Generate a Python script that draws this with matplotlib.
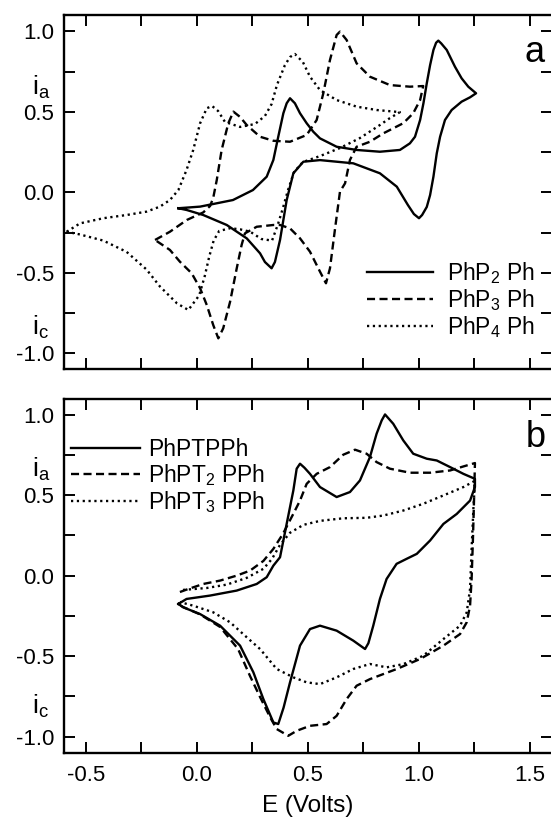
import matplotlib
matplotlib.use("Agg")
import matplotlib.pyplot as plt
from matplotlib.ticker import MultipleLocator, FormatStrFormatter

plt.rcParams['font.family'] = ['Liberation Sans', 'DejaVu Sans']
plt.rcParams['mathtext.fontset'] = 'custom'
plt.rcParams['mathtext.rm'] = 'Liberation Sans'
plt.rcParams['mathtext.it'] = 'Liberation Sans:italic'
plt.rcParams['axes.unicode_minus'] = False
plt.rcParams['lines.scale_dashes'] = False

# ---------------- panel a : PhPnPh oligomers ----------------
p2_E = [-0.084, 0.014, 0.162, 0.252, 0.314, 0.344, 0.366, 0.389, 0.404, 0.419, 0.441,
        0.464, 0.494, 0.524, 0.554, 0.629, 0.719, 0.824, 0.914, 0.959, 0.982, 1.005,
        1.020, 1.035, 1.050, 1.065, 1.077, 1.087, 1.100, 1.125, 1.162, 1.192, 1.222,
        1.257, 1.230, 1.192, 1.147, 1.117, 1.095, 1.080, 1.065, 1.050, 1.035, 1.014,
        1.000, 0.977, 0.950, 0.900, 0.824, 0.704, 0.554, 0.479, 0.434, 0.404, 0.374,
        0.351, 0.336, 0.306, 0.284, 0.224, 0.134, 0.028, -0.046, -0.084]
p2_i = [-0.099, -0.089, -0.048, 0.014, 0.097, 0.201, 0.345, 0.491, 0.553, 0.584, 0.553,
        0.491, 0.429, 0.376, 0.335, 0.283, 0.263, 0.252, 0.263, 0.304, 0.345, 0.449,
        0.553, 0.677, 0.790, 0.884, 0.929, 0.942, 0.925, 0.884, 0.780, 0.708, 0.656,
        0.615, 0.590, 0.563, 0.511, 0.449, 0.345, 0.242, 0.097, -0.017, -0.091, -0.141,
        -0.161, -0.135, -0.079, 0.035, 0.118, 0.180, 0.200, 0.190, 0.118, -0.048, -0.296,
        -0.433, -0.472, -0.433, -0.379, -0.286, -0.203, -0.141, -0.110, -0.099]

p3_E = [-0.189, -0.122, -0.046, 0.028, 0.059, 0.073, 0.089, 0.111, 0.141, 0.164, 0.194,
        0.224, 0.284, 0.344, 0.419, 0.494, 0.539, 0.569, 0.599, 0.629, 0.644, 0.674,
        0.719, 0.779, 0.869, 0.959, 1.019, 1.005, 0.974, 0.929, 0.839, 0.779, 0.719,
        0.689, 0.667, 0.644, 0.622, 0.599, 0.581, 0.554, 0.509, 0.464, 0.419, 0.374,
        0.344, 0.269, 0.216, 0.201, 0.179, 0.149, 0.118, 0.096, 0.073, 0.044, 0.014,
        -0.024, -0.077, -0.122, -0.189]
p3_i = [-0.296, -0.245, -0.172, -0.125, -0.085, -0.035, 0.076, 0.263, 0.429, 0.501, 0.468,
        0.418, 0.345, 0.320, 0.314, 0.356, 0.449, 0.615, 0.822, 0.977, 0.998, 0.946,
        0.801, 0.718, 0.666, 0.656, 0.660, 0.573, 0.491, 0.429, 0.366, 0.314, 0.283,
        0.201, 0.056, 0.004, -0.224, -0.472, -0.565, -0.493, -0.369, -0.286, -0.224, -0.203,
        -0.203, -0.214, -0.255, -0.327, -0.472, -0.680, -0.845, -0.907, -0.824, -0.700, -0.596,
        -0.503, -0.431, -0.358, -0.296]

p4_E = [-0.587, -0.527, -0.422, -0.317, -0.227, -0.167, -0.122, -0.084, -0.047, -0.017, 0.014,
        0.044, 0.068, 0.095, 0.126, 0.194, 0.261, 0.306, 0.336, 0.360, 0.396, 0.419,
        0.441, 0.477, 0.509, 0.554, 0.629, 0.719, 0.810, 0.914, 0.869, 0.824, 0.734,
        0.644, 0.554, 0.477, 0.437, 0.410, 0.387, 0.365, 0.338, 0.290, 0.240, 0.194,
        0.150, 0.100, 0.075, 0.055, 0.035, 0.010, -0.039, -0.090, -0.167, -0.227, -0.317,
        -0.422, -0.527, -0.587]
p4_i = [-0.245, -0.193, -0.161, -0.141, -0.120, -0.089, -0.048, 0.014, 0.139, 0.263, 0.429,
        0.522, 0.536, 0.505, 0.437, 0.406, 0.424, 0.474, 0.548, 0.666, 0.790, 0.840,
        0.859, 0.809, 0.718, 0.635, 0.573, 0.532, 0.511, 0.498, 0.461, 0.418, 0.337,
        0.275, 0.225, 0.188, 0.126, 0.014, -0.098, -0.197, -0.300, -0.290, -0.245, -0.230,
        -0.223, -0.240, -0.300, -0.400, -0.520, -0.640, -0.731, -0.690, -0.585, -0.480, -0.370,
        -0.300, -0.262, -0.245]

# ---------------- panel b : PhPTnPPh oligomers ----------------
t1_E = [-0.084, -0.047, 0.059, 0.179, 0.269, 0.314, 0.344, 0.374, 0.404, 0.434, 0.449,
        0.464, 0.484, 0.509, 0.554, 0.629, 0.689, 0.734, 0.779, 0.809, 0.832, 0.847,
        0.884, 0.929, 0.974, 1.035, 1.080, 1.140, 1.200, 1.252, 1.252, 1.230, 1.170,
        1.110, 1.050, 0.990, 0.944, 0.899, 0.854, 0.824, 0.794, 0.772, 0.757, 0.704,
        0.629, 0.554, 0.509, 0.464, 0.419, 0.390, 0.366, 0.344, 0.299, 0.254, 0.194,
        0.104, 0.014, -0.062, -0.084]
t1_i = [-0.176, -0.145, -0.124, -0.093, -0.052, -0.010, 0.062, 0.114, 0.322, 0.529, 0.664,
        0.695, 0.670, 0.632, 0.550, 0.488, 0.519, 0.591, 0.736, 0.881, 0.964, 1.001,
        0.943, 0.840, 0.757, 0.726, 0.715, 0.674, 0.632, 0.601, 0.550, 0.466, 0.383,
        0.321, 0.218, 0.135, 0.104, 0.073, -0.021, -0.145, -0.311, -0.420, -0.456, -0.404,
        -0.342, -0.311, -0.332, -0.435, -0.663, -0.820, -0.922, -0.912, -0.767, -0.601, -0.435,
        -0.311, -0.239, -0.197, -0.176]

t2_E = [-0.077, -0.039, 0.028, 0.104, 0.179, 0.239, 0.299, 0.344, 0.387, 0.434, 0.464,
        0.494, 0.539, 0.599, 0.659, 0.712, 0.764, 0.809, 0.869, 0.959, 1.050, 1.140,
        1.200, 1.252, 1.248, 1.243, 1.237, 1.230, 1.215, 1.185, 1.110, 1.005, 0.900,
        0.779, 0.719, 0.674, 0.629, 0.584, 0.509, 0.449, 0.411, 0.359, 0.329, 0.284,
        0.239, 0.185, 0.104, 0.014, -0.063, -0.086]
t2_i = [-0.102, -0.083, -0.052, -0.031, 0.000, 0.031, 0.091, 0.166, 0.259, 0.384, 0.466,
        0.570, 0.632, 0.674, 0.751, 0.782, 0.757, 0.705, 0.664, 0.639, 0.639, 0.653,
        0.678, 0.699, 0.477, 0.228, -0.021, -0.187, -0.290, -0.363, -0.435, -0.518, -0.580,
        -0.643, -0.684, -0.767, -0.871, -0.922, -0.933, -0.964, -0.995, -0.953, -0.879, -0.754,
        -0.624, -0.456, -0.319, -0.241, -0.195, -0.176]

t3_E = [-0.063, 0.044, 0.134, 0.224, 0.299, 0.338, 0.374, 0.419, 0.479, 0.554, 0.659,
        0.764, 0.839, 0.929, 1.019, 1.110, 1.200, 1.252, 1.245, 1.237, 1.230, 1.215,
        1.185, 1.110, 1.019, 0.929, 0.854, 0.779, 0.704, 0.629, 0.554, 0.494, 0.434,
        0.359, 0.284, 0.224, 0.149, 0.073, -0.017, -0.077]
t3_i = [-0.089, -0.077, -0.056, -0.014, 0.042, 0.104, 0.191, 0.266, 0.315, 0.340, 0.356,
        0.359, 0.373, 0.404, 0.446, 0.498, 0.550, 0.589, 0.415, 0.166, -0.083, -0.228,
        -0.311, -0.394, -0.498, -0.550, -0.570, -0.549, -0.580, -0.632, -0.674, -0.663, -0.632,
        -0.580, -0.456, -0.383, -0.290, -0.228, -0.187, -0.164]

labels_a = [r'PhP$_2$ Ph', r'PhP$_3$ Ph', r'PhP$_4$ Ph']
labels_b = [r'PhPTPPh', r'PhPT$_2$ PPh', r'PhPT$_3$ PPh']

W, H = 551, 834
fig = plt.figure(figsize=(W / 100, H / 100), dpi=100)
ax1 = fig.add_axes([63.8 / W, (H - 369.4) / H, 488.4 / W, 354.2 / H])
ax2 = fig.add_axes([63.8 / W, (H - 752.7) / H, 488.4 / W, 354.2 / H])

lw = 1.7
styles = [dict(ls='-'), dict(ls=(0, (5.8, 3.2))), dict(ls=(0, (1.6, 2.6)))]

for ax in (ax1, ax2):
    ax.set_xlim(-0.6, 1.6)
    ax.set_ylim(-1.1, 1.1)
    ax.xaxis.set_major_locator(MultipleLocator(0.5))
    ax.xaxis.set_minor_locator(MultipleLocator(0.25))
    ax.yaxis.set_major_locator(MultipleLocator(0.5))
    ax.yaxis.set_minor_locator(MultipleLocator(0.25))
    ax.xaxis.set_major_formatter(FormatStrFormatter('%.1f'))
    ax.yaxis.set_major_formatter(FormatStrFormatter('%.1f'))
    ax.tick_params(which='both', direction='in', top=True, right=True,
                   length=8, width=1.4, labelsize=16, pad=7)
    ax.tick_params(axis='x', pad=9)
    for s in ax.spines.values():
        s.set_linewidth(1.7)

series_a = [(p2_E, p2_i), (p3_E, p3_i), (p4_E, p4_i)]
series_b = [(t1_E, t1_i), (t2_E, t2_i), (t3_E, t3_i)]

for (E, i), st, lab in zip(series_a, styles, labels_a):
    ax1.plot(E, i, color='black', lw=lw, label=lab, **st)
for (E, i), st, lab in zip(series_b, styles, labels_b):
    ax2.plot(E, i, color='black', lw=lw, label=lab, **st)

ax1.tick_params(labelbottom=False)

ax1.legend(loc='center left', bbox_to_anchor=(0.620, 0.196), frameon=False,
           fontsize=16.5, handlelength=2.9, handletextpad=0.6,
           labelspacing=0.05, borderpad=0, borderaxespad=0)
ax2.legend(loc='center left', bbox_to_anchor=(0.015, 0.78), frameon=False,
           fontsize=16.5, handlelength=3.0, handletextpad=0.35,
           labelspacing=0.05, borderpad=0, borderaxespad=0)

for ax, ya, yc in ((ax1, 0.65, -0.84), (ax2, 0.66, -0.81)):
    tr = ax.get_yaxis_transform()
    ax.text(-0.047, ya, r'$\mathrm{i}_\mathrm{a}$', transform=tr,
            ha='center', va='center', fontsize=19, clip_on=False)
    ax.text(-0.047, yc, r'$\mathrm{i}_\mathrm{c}$', transform=tr,
            ha='center', va='center', fontsize=19, clip_on=False)

ax1.text(0.963, 0.896, 'a', transform=ax1.transAxes, ha='center', va='center', fontsize=26)
ax2.text(0.967, 0.891, 'b', transform=ax2.transAxes, ha='center', va='center', fontsize=26)

ax2.set_xlabel('E (Volts)', fontsize=17.5, labelpad=6)

fig.savefig('out.png', dpi=100)
